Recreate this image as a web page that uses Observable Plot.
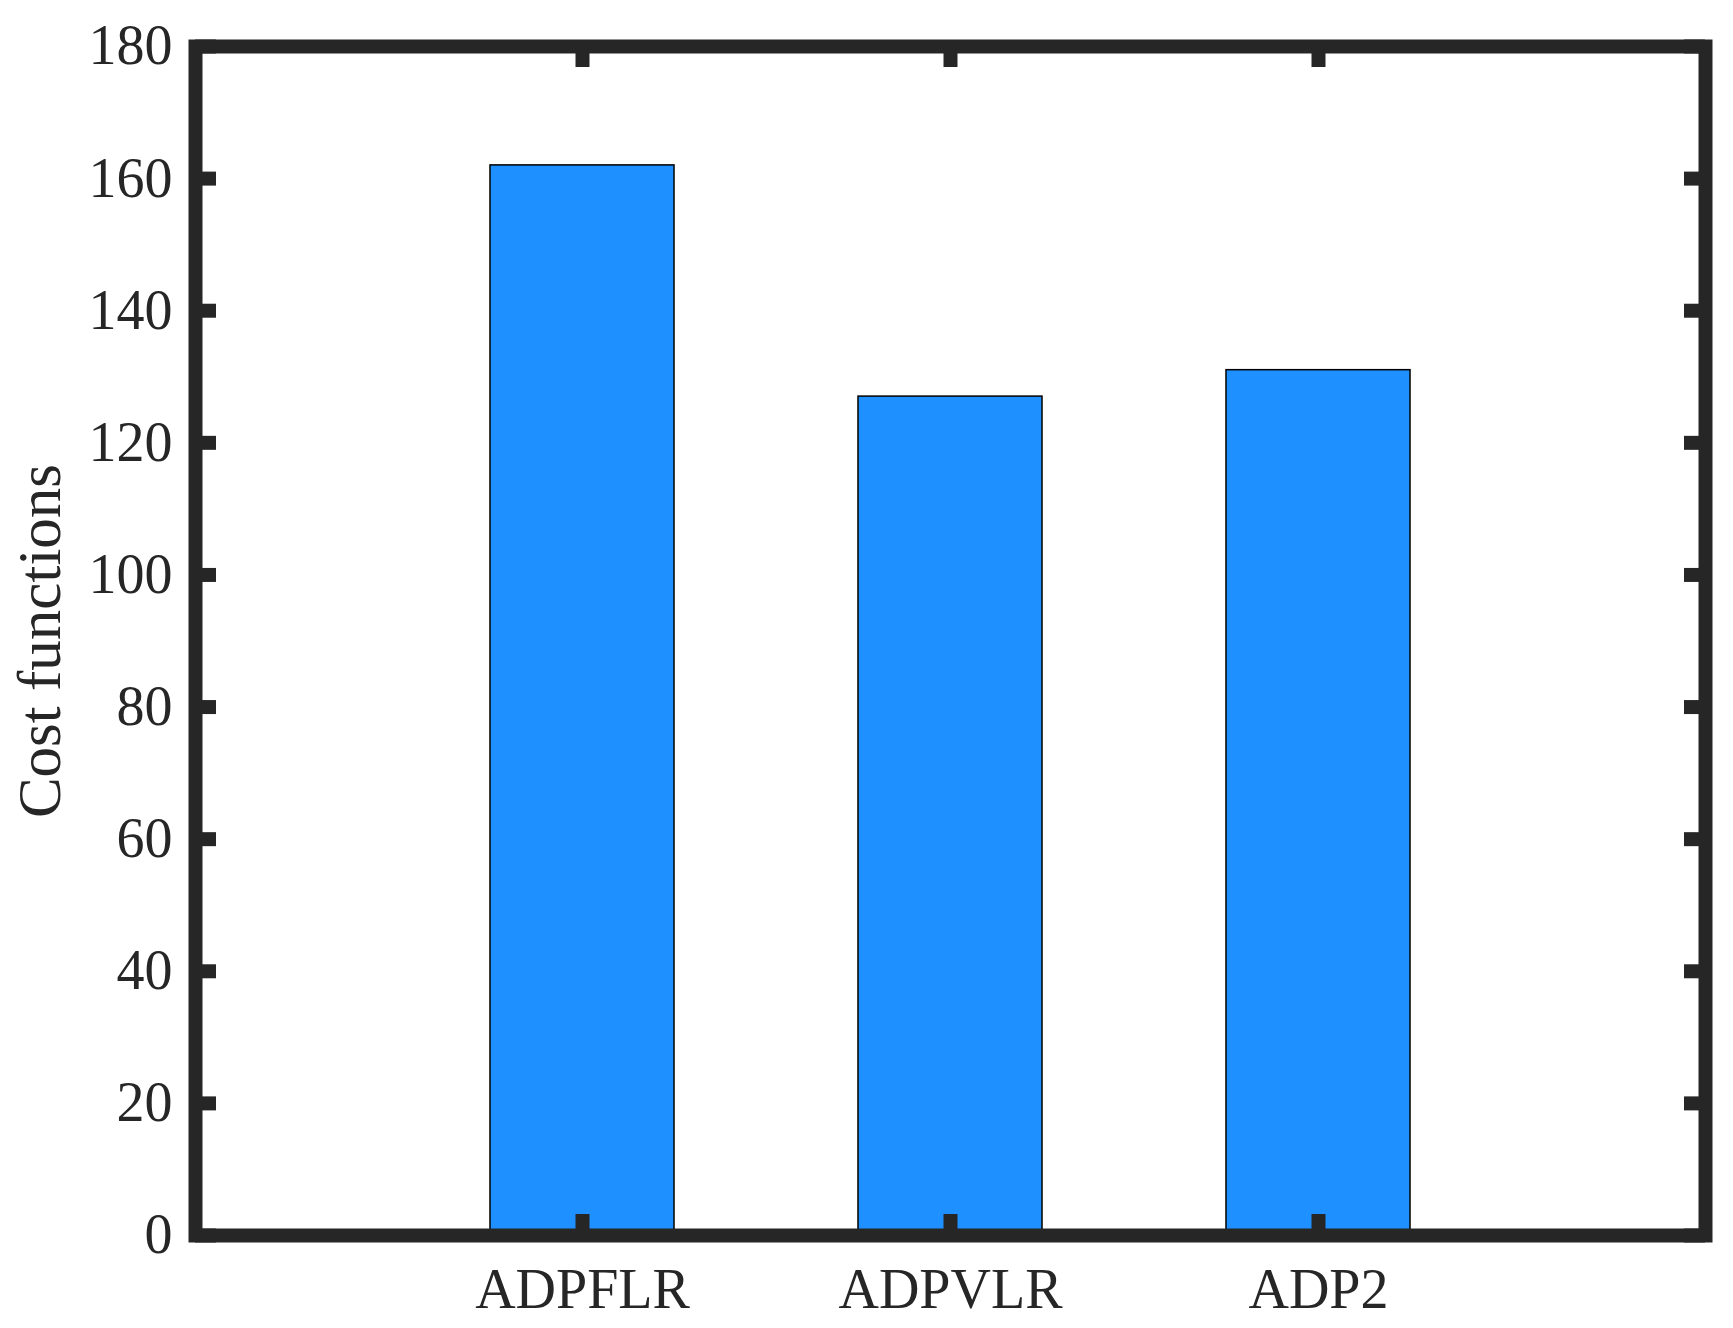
<!DOCTYPE html>
<html><head><meta charset="utf-8">
<script src="https://cdn.jsdelivr.net/npm/d3@7"></script>
<script src="https://cdn.jsdelivr.net/npm/@observablehq/plot@0.6"></script>
<style>body{margin:0;background:#fff}</style>
</head><body><div id="chart"></div>
<script>
const categories = ["ADPFLR", "ADPVLR", "ADP2"];
const values = [162, 127, 131];
const yTicks = [0, 20, 40, 60, 80, 100, 120, 140, 160, 180];
const yLabel = "Cost functions";

const data = categories.map((c, i) => ({name: c, value: values[i]}));
const W = 1733, H = 1328, mL = 195, mR = 28, mT = 46, mB = 93;
const pw = W - mL - mR, ph = H - mT - mB;
const ink = "#262626";
const tickLen = 21, lw = 14;

const chart = Plot.plot({
  width: W, height: H,
  marginLeft: mL, marginRight: mR, marginTop: mT, marginBottom: mB,
  style: {fontFamily: '"Liberation Serif","Times New Roman",serif', fontSize: "56px", color: ink, background: "#fff"},
  x: {domain: categories, type: "band", paddingInner: 0.5, paddingOuter: 0.8},
  y: {domain: [0, 180]},
  marks: [
    Plot.barY(data, {x: "name", y: "value", fill: "#1E90FF", stroke: "#000", strokeWidth: 1.5}),
    Plot.frame({stroke: ink, strokeWidth: lw}),
    Plot.tickY(yTicks, {y: d => d, stroke: ink, strokeWidth: lw, insetRight: pw - tickLen}),
    Plot.tickY(yTicks, {y: d => d, stroke: ink, strokeWidth: lw, insetLeft: pw - tickLen}),
    Plot.tickX(categories, {x: d => d, stroke: ink, strokeWidth: lw, insetBottom: ph - tickLen}),
    Plot.tickX(categories, {x: d => d, stroke: ink, strokeWidth: lw, insetTop: ph - tickLen}),
    Plot.axisY({ticks: yTicks, tickSize: 0, tickPadding: 23, fontSize: 56, label: null, fill: ink}),
    Plot.axisX({tickSize: 0, tickPadding: 33, fontSize: 56, label: null, fill: ink}),
    Plot.text([yLabel], {text: d => d, frameAnchor: "left", rotate: -90, dx: -155, fontSize: 61,
      textAnchor: "middle", lineAnchor: "middle", fill: ink})
  ]
});
document.getElementById("chart").appendChild(chart);
</script>
</body></html>
